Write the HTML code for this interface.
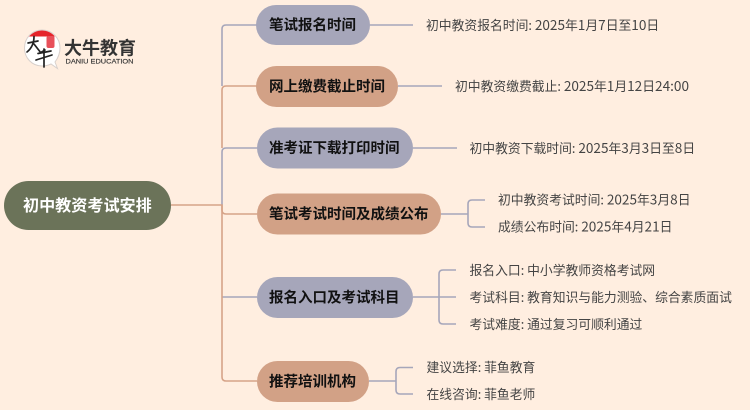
<!DOCTYPE html>
<html><head><meta charset="utf-8"><style>
html,body{margin:0;padding:0;width:750px;height:410px;overflow:hidden;background:#ffeee0}
svg{display:block}
text{font-family:"Liberation Sans","Noto Sans CJK SC",sans-serif}
.t{font-family:"Noto Sans CJK SC","Liberation Sans",sans-serif;font-size:14.5px;font-weight:700;fill:#111}
.l{font-family:"Noto Sans CJK SC","Liberation Sans",sans-serif;font-size:12.8px;fill:#444}
.d{font-size:13.6px}
.b{fill:none;stroke:#a6a6ba;stroke-width:1.6}
.o{fill:none;stroke:#d6a388;stroke-width:1.6}
</style></head><body>
<svg width="750" height="410" viewBox="0 0 750 410" xmlns="http://www.w3.org/2000/svg">
<rect width="750" height="410" fill="#ffeee0"/>
<!-- trunk connectors -->
<path class="b" d="M222 86V29Q222 25 226 25H257"/>
<path class="b" d="M222 205V152Q222 148 226 148H257"/>
<path class="b" d="M222 297H257"/>
<path class="o" d="M222 148V90Q222 86 226 86H257"/>
<path class="o" d="M171 205H222V377Q222 381 226 381H257"/>
<path class="o" d="M222 205V210Q222 214 226 214H257"/>
<!-- leaf connectors -->
<path class="b" d="M370 25H413M398 86H442M413 148H457"/>
<path class="b" d="M441 214H468M485 200H472Q468 200 468 204V223Q468 227 472 227H485"/>
<path class="b" d="M413 297H456M456 270H443Q439 270 439 274V320Q439 324 443 324H456"/>
<path class="b" d="M369 381H396M413 367.500H400Q396 367.500 396 371.500V390Q396 394 400 394H413"/>
<!-- pills -->
<rect x="4" y="181" width="167" height="49" rx="24.500" fill="#6b7359"/>
<rect x="256" y="5" width="114" height="40" rx="20" fill="#a6a6ba"/>
<rect x="256" y="66" width="142" height="41" rx="20.500" fill="#d2a186"/>
<rect x="257" y="127.500" width="156" height="41" rx="20.500" fill="#a6a6ba"/>
<rect x="257" y="193.500" width="184" height="41" rx="20.500" fill="#d2a186"/>
<rect x="257" y="277" width="156" height="41" rx="20.500" fill="#a6a6ba"/>
<rect x="257" y="361" width="112" height="41" rx="20.500" fill="#d2a186"/>
<!-- pill labels -->
<text x="23" y="211" font-size="16.100" font-weight="700" fill="#fff" style="font-family:'Noto Sans CJK SC',sans-serif">初中教资考试安排</text>
<text class="t" x="269" y="30">笔试报名时间</text>
<text class="t" x="269" y="91.500">网上缴费截止时间</text>
<text class="t" x="269" y="153">准考证下载打印时间</text>
<text class="t" x="269" y="219">笔试考试时间及成绩公布</text>
<text class="t" x="269" y="302.500">报名入口及考试科目</text>
<text class="t" x="269" y="386.500">推荐培训机构</text>
<!-- leaf labels -->
<text class="l" x="426" y="30">初中教资报名时间: <tspan class="d">2025</tspan>年<tspan class="d">1</tspan>月<tspan class="d">7</tspan>日至<tspan class="d">10</tspan>日</text>
<text class="l" x="455" y="91">初中教资缴费截止: <tspan class="d">2025</tspan>年<tspan class="d">1</tspan>月<tspan class="d">12</tspan>日<tspan class="d">24:00</tspan></text>
<text class="l" x="469.500" y="153">初中教资下载时间: <tspan class="d">2025</tspan>年<tspan class="d">3</tspan>月<tspan class="d">3</tspan>日至<tspan class="d">8</tspan>日</text>
<text class="l" x="498" y="204.500">初中教资考试时间: <tspan class="d">2025</tspan>年<tspan class="d">3</tspan>月<tspan class="d">8</tspan>日</text>
<text class="l" x="498" y="231.500">成绩公布时间: <tspan class="d">2025</tspan>年<tspan class="d">4</tspan>月<tspan class="d">21</tspan>日</text>
<text class="l" x="469.500" y="275">报名入口: 中小学教师资格考试网</text>
<text class="l" x="469.500" y="302">考试科目: 教育知识与能力测验、综合素质面试</text>
<text class="l" x="469.500" y="329">考试难度: 通过复习可顺利通过</text>
<text class="l" x="426.500" y="372">建议选择: 菲鱼教育</text>
<text class="l" x="426.500" y="399">在线咨询: 菲鱼老师</text>
<!-- logo -->
<path d="M42 30C32 30 24.500 38 24.500 48C24.500 58 32 66 42 66C46 66 49 65 51 64L57.500 68.500L55 62C58 58 60 53 60 48C60 38 52 30 42 30Z" fill="#fff" stroke="#d8d0cc" stroke-width="1"/>
<path d="M29 36.500C32.500 32.500 37 30.500 42 30.500C47 30.500 51.500 32.500 55 36.500Z" fill="#e5242a"/>
<rect x="46.500" y="36" width="8" height="12" rx="2" fill="#e8505a"/>
<path d="M28 43L38 41M34 36.500C34 42 32 48 27 52M34 44L41 53M40 53L45 50M36 60L52 55M44 49V67M38 53.500L51 51" fill="none" stroke="#222" stroke-width="1.700" stroke-linecap="round"/>
<text x="64" y="54.500" font-size="18" font-weight="700" fill="#333" style="font-family:'Noto Sans CJK SC',sans-serif">大牛教育</text>
<text x="65.500" y="63.500" font-size="6.500" font-weight="400" fill="#333" stroke="#333" stroke-width="0.150" textLength="68" lengthAdjust="spacingAndGlyphs">DANIU EDUCATION</text>
</svg>
</body></html>
